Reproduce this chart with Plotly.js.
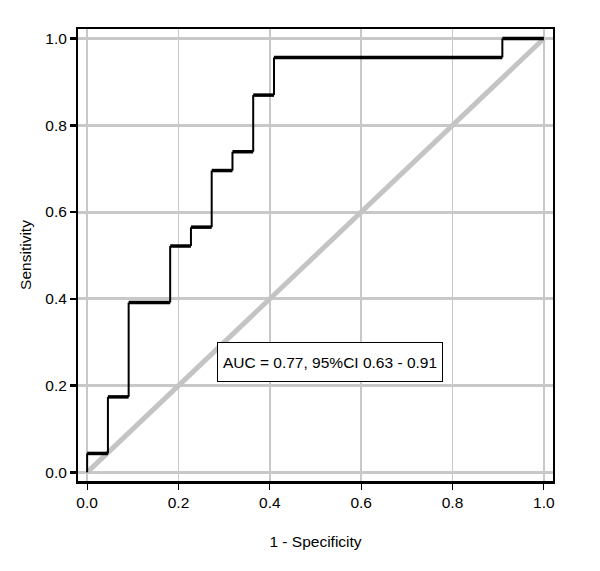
<!DOCTYPE html>
<html>
<head>
<meta charset="utf-8">
<script src="https://cdn.plot.ly/plotly-3.0.1.min.js"></script>
<style>html,body{margin:0;padding:0;background:#fff;}#chart{width:600px;height:571px;}</style>
</head>
<body>
<div id="chart"></div>
<script>
// ROC step points (1 - specificity, sensitivity)
const fpr = [0, 0, 0.0455, 0.0455, 0.0909, 0.0909, 0.1818, 0.1818, 0.2273, 0.2273, 0.2727, 0.2727, 0.3182, 0.3182, 0.3636, 0.3636, 0.4091, 0.4091, 0.9091, 0.9091, 1.0];
const tpr = [0, 0.0435, 0.0435, 0.1739, 0.1739, 0.3913, 0.3913, 0.5217, 0.5217, 0.5652, 0.5652, 0.6957, 0.6957, 0.7391, 0.7391, 0.8696, 0.8696, 0.9565, 0.9565, 1.0, 1.0];
const refX = [0, 1];
const refY = [0, 1];
const tickVals = [0, 0.2, 0.4, 0.6, 0.8, 1.0];
const tickText = ["0.0", "0.2", "0.4", "0.6", "0.8", "1.0"];
const aucText = "AUC = 0.77, 95%CI 0.63 - 0.91";
const xTitle = "1 - Specificity";
const yTitle = "Sensitivity";

// split steps into horizontal and vertical segments
const hx = [], hy = [], vx = [], vy = [];
for (let i = 1; i < fpr.length; i++) {
  if (tpr[i] === tpr[i-1]) { hx.push(fpr[i-1], fpr[i], null); hy.push(tpr[i-1], tpr[i], null); }
  else { vx.push(fpr[i-1], fpr[i], null); vy.push(tpr[i-1], tpr[i], null); }
}

const traces = [
  {x: refX, y: refY, mode: 'lines', line: {color: '#c4c4c4', width: 5}, hoverinfo: 'skip'},
  {x: vx, y: vy, mode: 'lines', line: {color: '#000', width: 2}, hoverinfo: 'skip'},
  {x: hx, y: hy, mode: 'lines', line: {color: '#000', width: 3.5}, hoverinfo: 'skip'}
];

const font = {family: 'Liberation Sans, Arial, sans-serif', size: 15.5, color: '#000'};
const layout = {
  width: 600, height: 571,
  margin: {l: 78, r: 47, t: 29, b: 90},
  paper_bgcolor: '#fff', plot_bgcolor: '#fff',
  showlegend: false,
  font: font,
  xaxis: {
    range: [-0.02, 1.02], tickvals: tickVals, ticktext: tickText,
    showgrid: true, gridcolor: '#c8c8c8', gridwidth: 1.5, zeroline: false,
    showline: true, linecolor: '#000', linewidth: 2.5, mirror: true,
    ticks: 'outside', ticklen: 6, tickwidth: 1, tickcolor: '#000',
    title: {text: xTitle, font: font, standoff: 26}
  },
  yaxis: {
    range: [-0.02, 1.022], tickvals: tickVals, ticktext: tickText,
    showgrid: true, gridcolor: '#c8c8c8', gridwidth: 3, zeroline: false,
    showline: true, linecolor: '#000', linewidth: 2, mirror: true,
    ticks: 'outside', ticklen: 6, tickwidth: 2.5, tickcolor: '#000',
    title: {text: yTitle, font: font, standoff: 10}
  },
  annotations: [{
    x: 0.532, y: 0.255, xref: 'x', yref: 'y', text: aucText, showarrow: false,
    font: font, bgcolor: '#fff', bordercolor: '#000', borderwidth: 1, borderpad: 1,
    width: 222, height: 36
  }]
};
Plotly.newPlot('chart', traces, layout, {staticPlot: true});
</script>
</body>
</html>
